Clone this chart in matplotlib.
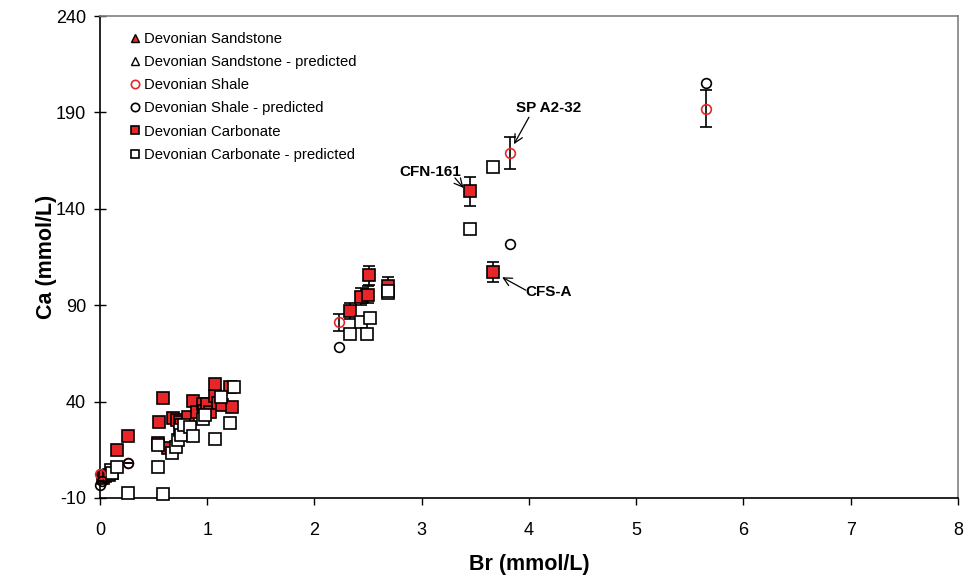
import matplotlib
matplotlib.use("Agg")
import matplotlib.pyplot as plt

plt.rcParams["axes.unicode_minus"] = False

# Devonian Shale (measured)
shale_br = [0.00, 0.26, 2.23, 3.82, 5.65]
shale_ca = [2.5, 8.3, 81.1, 168.8, 191.9]
shale_err = [0, 0, 4.5, 8.2, 9.6]

# Devonian Shale - predicted
shale_p_br = [0.00, 0.02, 0.26, 2.23, 3.82, 5.65]
shale_p_ca = [-3.3, -1.0, 8.3, 68.2, 121.6, 205.1]

# Devonian Carbonate (measured)
carb_br = [0.03, 0.05, 0.08, 0.11, 0.155, 0.257, 0.54, 0.55, 0.59, 0.63,
           0.68, 0.72, 0.745, 0.76, 0.82, 0.87, 0.906, 0.96, 0.97, 1.00,
           1.03, 1.07, 1.07, 1.10, 1.14, 1.21, 1.235,
           2.33, 2.43, 2.50, 2.51, 2.69, 3.45, 3.66]
carb_ca = [0.5, 1.4, 2.0, 2.8, 14.7, 22.0, 18.4, 29.6, 41.7, 15.8,
           31.3, 30.5, 29.6, 28.0, 32.2, 40.2, 34.4, 38.6, 35.0, 39.0,
           34.5, 43.1, 49.1, 39.5, 38.4, 47.7, 37.4,
           87.0, 94.4, 95.4, 105.5, 99.8, 149.2, 107.4]
carb_err = [0] * 27 + [4.0, 4.5, 4.5, 5.0, 5.0, 7.5, 5.2]

# Devonian Carbonate - predicted
carb_p_br = [0.10, 0.11, 0.155, 0.26, 0.54, 0.54, 0.59, 0.67, 0.71, 0.73,
             0.75, 0.76, 0.78, 0.84, 0.87, 0.96, 0.98, 1.07, 1.13, 1.21,
             1.25, 2.33, 2.43, 2.49, 2.52, 2.69, 2.69, 3.45, 3.66]
carb_p_ca = [4.5, 3.0, 6.2, -7.3, 5.9, 17.5, -8.0, 13.5, 16.3, 20.0,
             25.3, 22.5, 28.0, 27.0, 22.2, 31.0, 33.0, 20.8, 42.2, 29.1,
             47.5, 75.0, 81.4, 75.0, 83.2, 96.2, 97.5, 129.5, 161.8]

# labelled samples
labels = ["SP A2-32", "CFN-161", "CFS-A"]

red = "#e8262a"
FONT = "Liberation Sans"

fig = plt.figure(figsize=(9.65, 5.8), dpi=100)
ax = fig.add_axes([0.1036, 0.1414, 0.9927 - 0.1036, 0.9724 - 0.1414])

ax.errorbar(shale_br, shale_ca, yerr=shale_err, fmt="none", ecolor="black",
            elinewidth=1.2, capsize=4, capthick=1.2, zorder=2)
ax.errorbar(carb_br, carb_ca, yerr=carb_err, fmt="none", ecolor="black",
            elinewidth=1.2, capsize=4, capthick=1.2, zorder=2)

ax.plot([], [], linestyle="none", marker="^", ms=7, mfc=red, mec="black",
        mew=1.0, label="Devonian Sandstone")
ax.plot([], [], linestyle="none", marker="^", ms=7, mfc="white", mec="black",
        mew=1.0, label="Devonian Sandstone - predicted")
ax.plot(shale_br, shale_ca, linestyle="none", marker="o", ms=7, mfc="none",
        mec=red, mew=1.2, label="Devonian Shale", zorder=4, clip_on=False)
ax.plot(shale_p_br, shale_p_ca, linestyle="none", marker="o", ms=7, mfc="none",
        mec="black", mew=1.2, label="Devonian Shale - predicted", zorder=4,
        clip_on=False)
ax.plot(carb_br, carb_ca, linestyle="none", marker="s", ms=8, mfc=red,
        mec="black", mew=1.2, label="Devonian Carbonate", zorder=3,
        clip_on=False)
ax.plot(carb_p_br, carb_p_ca, linestyle="none", marker="s", ms=8, mfc="white",
        mec="black", mew=1.2, label="Devonian Carbonate - predicted", zorder=3,
        clip_on=False)

# annotation text & arrows (layout, in data space)
label_pos = [(4.18, 192.3), (3.08, 159.0), (4.18, 96.8)]
arrow_from = [(4.00, 187.5), (3.31, 156.0), (3.97, 97.8)]
arrow_to = [(3.86, 173.5), (3.39, 150.8), (3.75, 104.5)]
for text, (tx, ty), a0, a1 in zip(labels, label_pos, arrow_from, arrow_to):
    ax.text(tx, ty, text, ha="center", va="center", fontsize=11,
            fontweight="bold", family=FONT)
    ax.annotate("", xy=a1, xytext=a0,
                arrowprops=dict(arrowstyle="->,head_length=0.6,head_width=0.3",
                                color="black", lw=0.9, shrinkA=0, shrinkB=0))

ax.set_xlim(0, 8)
ax.set_ylim(-10, 240)
ax.set_xticks(range(0, 9))
ax.set_yticks([-10, 40, 90, 140, 190, 240])
ax.tick_params(axis="y", direction="inout", length=8, width=1, labelsize=13,
               pad=6)
ax.tick_params(axis="x", direction="out", length=5, width=1, labelsize=13,
               pad=12)
for lab in ax.get_xticklabels() + ax.get_yticklabels():
    lab.set_family(FONT)

ax.spines["left"].set_color("black")
ax.spines["bottom"].set_color("black")
ax.spines["top"].set_color("#808080")
ax.spines["right"].set_color("#808080")
for s in ax.spines.values():
    s.set_linewidth(1.2)

ax.set_xlabel("Br (mmol/L)", fontsize=15.5, fontweight="bold",
              family=FONT, labelpad=11)
ax.set_ylabel("Ca (mmol/L)", fontsize=15.5, fontweight="bold",
              family=FONT)
ax.yaxis.set_label_coords(-0.05, 0.5)

leg = ax.legend(loc="upper left", bbox_to_anchor=(0.02, 0.995), frameon=False,
                handlelength=0.6, handletextpad=0.3, labelspacing=0.62,
                prop={"family": FONT, "size": 10.7})
for h in leg.legend_handles:
    h.set_markersize(6)

fig.savefig("out.png", dpi=100)
